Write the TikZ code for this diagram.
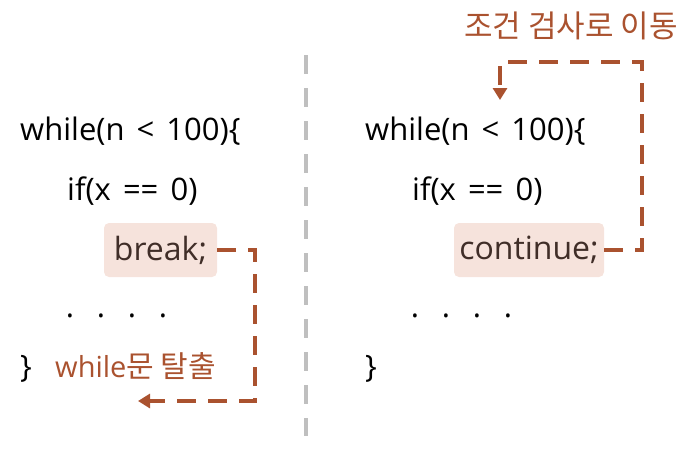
\documentclass[tikz,border=0pt]{standalone}
\usepackage{fontspec}
\setmainfont{Open Sans}
\newfontfamily\kr{Noto Sans CJK KR}
\usetikzlibrary{arrows.meta}
\definecolor{accent}{RGB}{170,82,47}
\definecolor{hlfill}{RGB}{246,227,220}
\definecolor{hltext}{RGB}{64,46,40}
\definecolor{divgray}{RGB}{191,191,191}
\newcommand{\gp}{\hspace{4pt}}
\tikzset{
  code/.style={anchor=base west, inner sep=0pt, font=\fontsize{31}{34}\selectfont, text=black},
  hlbox/.style={fill=hlfill, rounded corners=5pt, inner sep=0pt, text=hltext, font=\fontsize{32}{34}\selectfont},
  dotc/.style={anchor=base, inner sep=0pt, font=\fontsize{31}{34}\selectfont},
  jump/.style={draw=accent, line width=3.5pt, dash pattern=on 19pt off 12pt, -{Triangle[length=12pt,width=14pt]}},
  lbl/.style={anchor=base west, inner sep=0pt, text=accent, font=\fontsize{29}{32}\selectfont},
}
\begin{document}
\begin{tikzpicture}[x=1pt,y=-1pt]
\useasboundingbox (0,0) rectangle (700,448);
% divider
\draw[divgray, line width=4pt, dash pattern=on 19pt off 14pt] (306,55) -- (306,436);
% left column
\node[code] (lw) at (20,140) {while(n\gp{} <{}\gp{} 100)\{};
\node[code] (li) at (67,200) {if(x\gp{} =={}\gp{} 0)};
\node[hlbox, minimum width=113pt, minimum height=54pt] (lb) at (160.5,250) {break;};
\node[dotc] (ld1) at (70,317) {.};
\node[dotc] (ld2) at (101,317) {.};
\node[dotc] (ld3) at (132,317) {.};
\node[dotc] (ld4) at (163,317) {.};
\node[code] (lc) at (20,377) {\}};
\node[lbl] (lt) at (55,377) {while{\kr\fontsize{30}{32}\selectfont 문 탈출}};
\coordinate (le) at (138,401);
\draw[jump] (lb.east) -| (255,401) -- (le);
% right column
\node[code] (rw) at (365,140) {while(n\gp{} <{}\gp{} 100)\{};
\node[code] (ri) at (412,200) {if(x\gp{} =={}\gp{} 0)};
\node[hlbox, minimum width=150pt, minimum height=54pt] (rb) at (529,250) {continue;};
\node[dotc] (rd1) at (415,317) {.};
\node[dotc] (rd2) at (446,317) {.};
\node[dotc] (rd3) at (477,317) {.};
\node[dotc] (rd4) at (508,317) {.};
\node[code] (rc) at (365,377) {\}};
\node[text=accent, inner sep=0pt, font=\kr\fontsize{31}{34}\selectfont] (rt) at (571,26) {조건 검사로 이동};
\coordinate (re) at (500,100);
\draw[jump] (rb.east) -| (642,62) -| (re);
\end{tikzpicture}
\end{document}
